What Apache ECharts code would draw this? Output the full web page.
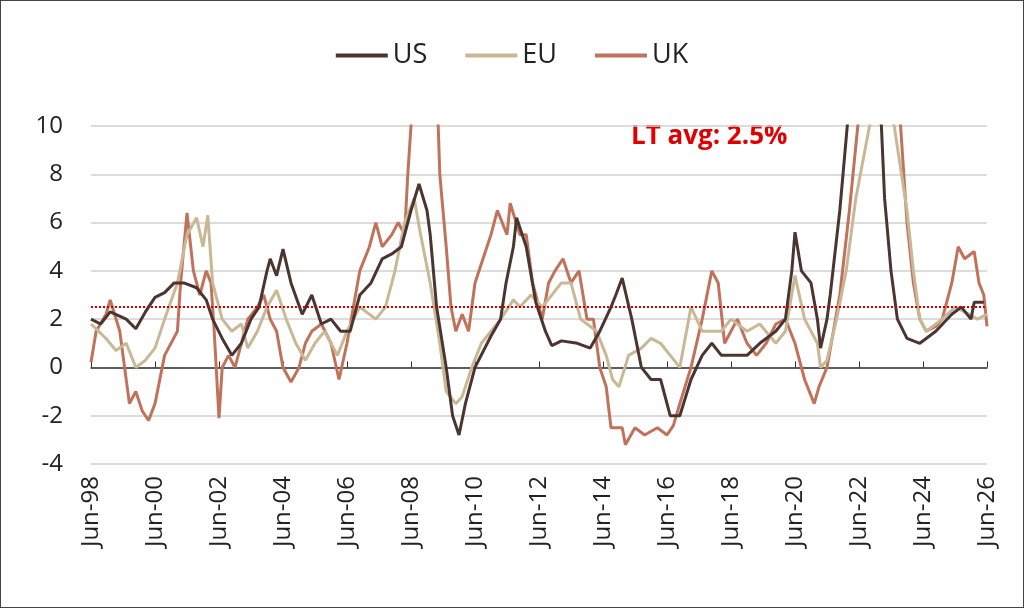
<!DOCTYPE html>
<html>
<head>
<meta charset="utf-8">
<script src="https://cdn.jsdelivr.net/npm/echarts@6/dist/echarts.min.js"></script>
<style>
html, body { margin: 0; padding: 0; background: #fff; }
#chart-container { width: 1024px; height: 608px; box-sizing: border-box; border: 1px solid #444; }
</style>
</head>
<body>
<div id="chart-container"></div>
<script>
// x = years since Jun-98
var usData = [[0,2.0],[.3,1.8],[.6,2.3],[1.1,2.0],[1.4,1.6],[1.7,2.3],[2.0,2.9],[2.3,3.1],[2.6,3.5],[2.9,3.5],[3.3,3.3],[3.6,2.8],[3.8,2.0],[4.1,1.2],[4.4,0.5],[4.7,1.0],[5.0,2.0],[5.25,2.5],[5.5,4.0],[5.6,4.5],[5.8,3.8],[6.0,4.9],[6.25,3.5],[6.6,2.2],[6.9,3.0],[7.2,1.8],[7.5,2.0],[7.8,1.5],[8.1,1.5],[8.4,3.0],[8.75,3.5],[9.1,4.5],[9.4,4.7],[9.7,5.0],[10.0,6.5],[10.25,7.6],[10.5,6.5],[10.6,5.5],[10.8,2.5],[11.1,0],[11.3,-2.0],[11.5,-2.8],[11.7,-1.5],[12.0,0],[12.5,1.3],[12.8,2.0],[12.97,3.5],[13.2,5.0],[13.3,6.2],[13.6,5.0],[13.9,2.7],[14.2,1.5],[14.4,0.9],[14.7,1.1],[15.2,1.0],[15.6,0.8],[15.9,1.5],[16.25,2.5],[16.4,3.0],[16.6,3.7],[16.9,2.0],[17.2,0],[17.5,-0.5],[17.8,-0.5],[18.1,-2.0],[18.4,-2.0],[18.75,-0.5],[19.1,0.5],[19.4,1.0],[19.7,0.5],[20.0,0.5],[20.5,0.5],[20.9,1.0],[21.4,1.5],[21.7,2.0],[21.9,4.0],[22.0,5.6],[22.2,4.0],[22.5,3.5],[22.7,2.0],[22.8,0.8],[23.0,2.0],[23.1,3.0],[23.4,6.5],[23.7,11],[24.1,13],[24.5,12],[24.7,10],[24.8,7],[25.0,4],[25.2,2.0],[25.5,1.2],[25.9,1.0],[26.4,1.5],[26.9,2.2],[27.2,2.5],[27.5,2.0],[27.6,2.7],[27.9,2.7]];
var euData = [[0,1.8],[.47,1.2],[.78,0.7],[1.1,1.0],[1.4,0],[1.7,0.3],[2.0,0.8],[2.3,2.0],[2.7,3.5],[3.0,5.5],[3.3,6.2],[3.5,5.0],[3.65,6.3],[3.8,3.5],[4.1,2.0],[4.4,1.5],[4.7,1.8],[4.9,0.8],[5.2,1.5],[5.5,2.5],[5.8,3.2],[6.1,2.0],[6.4,1.0],[6.7,0.3],[7.0,1.0],[7.3,1.5],[7.7,0.5],[8.0,1.5],[8.4,2.5],[8.9,2.0],[9.2,2.5],[9.5,4.0],[9.8,6.0],[10.1,7.0],[10.3,5.5],[10.6,3.5],[10.9,1.0],[11.1,-1.0],[11.4,-1.5],[11.6,-1.2],[11.9,0],[12.2,1.0],[12.5,1.5],[12.8,2.0],[13.2,2.8],[13.4,2.5],[13.75,3.0],[14.1,2.5],[14.7,3.5],[15.0,3.5],[15.3,2.0],[15.8,1.5],[16.1,0.5],[16.3,-0.5],[16.5,-0.8],[16.8,0.5],[17.2,0.8],[17.5,1.2],[17.8,1.0],[18.1,0.5],[18.4,0],[18.75,2.5],[19.1,1.5],[19.4,1.5],[19.7,1.5],[20.0,2.0],[20.5,1.5],[20.9,1.8],[21.4,1.0],[21.7,1.5],[22.0,3.8],[22.3,2.0],[22.7,1.0],[22.8,0],[23.0,0.3],[23.3,2.0],[23.6,4.0],[23.9,7],[24.4,10.5],[24.8,11],[25.1,10],[25.5,6.5],[25.7,4],[25.9,2.0],[26.1,1.5],[26.6,2.0],[27.0,2.5],[27.3,2.3],[27.7,2.0],[28.0,2.2]];
var ukData = [[0,0.2],[.16,1.5],[.47,2.2],[.6,2.8],[.9,1.5],[1.2,-1.5],[1.4,-1.0],[1.6,-1.8],[1.8,-2.2],[2.0,-1.5],[2.3,0.5],[2.7,1.5],[2.8,3.5],[3.0,6.4],[3.2,4.0],[3.4,3.0],[3.6,4.0],[3.75,3.5],[3.85,1.5],[4.0,-2.1],[4.1,0],[4.3,0.5],[4.5,0],[4.7,1.0],[4.9,2.0],[5.2,2.5],[5.4,3.0],[5.6,2.0],[5.8,1.5],[6.0,0],[6.25,-0.6],[6.5,0],[6.7,1.0],[6.9,1.5],[7.2,1.8],[7.5,1.0],[7.75,-0.5],[8.0,1.0],[8.2,2.5],[8.4,4.0],[8.7,5.0],[8.9,6.0],[9.1,5.0],[9.4,5.5],[9.6,6.0],[9.8,5.5],[9.9,8.0],[10.1,12],[10.8,12],[10.9,8],[11.1,5],[11.25,2.5],[11.4,1.5],[11.6,2.2],[11.8,1.5],[12.0,3.5],[12.25,4.5],[12.5,5.5],[12.7,6.5],[13.0,5.5],[13.1,6.8],[13.4,5.5],[13.6,5.5],[13.8,3.5],[14.1,2.0],[14.3,3.5],[14.5,4.0],[14.75,4.5],[15.0,3.5],[15.25,4.0],[15.5,2.0],[15.7,2.0],[15.9,0],[16.1,-0.8],[16.25,-2.5],[16.6,-2.5],[16.7,-3.2],[17.0,-2.5],[17.3,-2.8],[17.7,-2.5],[18.0,-2.8],[18.2,-2.4],[18.4,-1.5],[18.75,0],[19.1,2.0],[19.4,4.0],[19.6,3.5],[19.8,1.0],[20.2,2.0],[20.5,1.0],[20.8,0.5],[21.1,1.0],[21.4,1.8],[21.7,2.0],[22.0,1.0],[22.3,-0.5],[22.6,-1.5],[22.75,-0.8],[23.0,0],[23.2,1.5],[23.4,3.0],[23.7,6.5],[24.0,10.5],[24.4,13],[25.0,13],[25.25,11],[25.5,6],[25.7,3.5],[25.9,2.0],[26.1,1.5],[26.4,1.7],[26.6,2.0],[26.9,3.5],[27.1,5.0],[27.3,4.5],[27.6,4.8],[27.75,3.5],[27.9,3.0],[28.0,1.7]];
var ltAvg = 2.5;
var seriesNames = ['US', 'EU', 'UK'];
var seriesColors = ['#4b3530', '#c9b896', '#c0735a'];

var myChart = echarts.init(document.getElementById('chart-container'), null, { renderer: 'canvas' });
var font = 'Open Sans, sans-serif';

var option = {
  animation: false,
  textStyle: { fontFamily: font },
  legend: {
    top: 36, left: 'center', itemWidth: 52, itemGap: 38,
    textStyle: { fontSize: 27, color: '#222', fontFamily: font },
    data: seriesNames.map(function (n) { return { name: n, icon: 'rect' }; }),
    itemHeight: 4
  },
  grid: { left: 90, right: 36, top: 125, bottom: 143 },
  xAxis: {
    type: 'value', min: 0, max: 28, interval: 2,
    axisLine: { lineStyle: { color: '#333', width: 1.5 } },
    axisTick: { show: true, inside: true, length: 6, lineStyle: { color: '#333' } },
    splitLine: { show: false },
    axisLabel: {
      rotate: 90, fontSize: 24, color: '#222', margin: 12,
      formatter: function (v) { return 'Jun-' + String((98 + v) % 100).padStart(2, '0'); }
    }
  },
  yAxis: {
    type: 'value', min: -4, max: 10, interval: 2,
    axisLine: { show: false }, axisTick: { show: false },
    splitLine: { lineStyle: { color: '#d0d0d0', width: 1.5 } },
    axisLabel: { fontSize: 24, color: '#222', margin: 28 }
  },
  series: [usData, euData, ukData].map(function (d, i) {
    var s = {
      name: seriesNames[i], type: 'line', data: d, showSymbol: false, clip: true,
      lineStyle: { width: 3, color: seriesColors[i] }, itemStyle: { color: seriesColors[i] },
      z: 3 - i
    };
    if (i === 0) {
      s.markLine = {
        silent: true, symbol: 'none',
        lineStyle: { type: 'dotted', color: '#d00000', width: 2 },
        label: { show: false },
        data: [{ yAxis: ltAvg }]
      };
    }
    return s;
  }),
  graphic: [{
    type: 'text', left: 630, top: 123,
    style: { text: 'LT avg: 2.5%', fill: '#e00000', font: 'bold 26px ' + font }
  }]
};
myChart.setOption(option);
</script>
</body>
</html>
